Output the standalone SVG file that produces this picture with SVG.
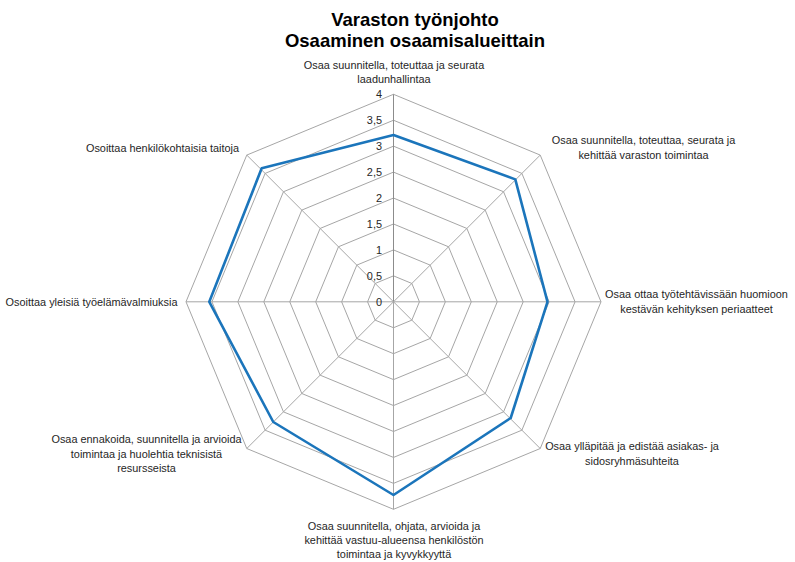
<svg xmlns="http://www.w3.org/2000/svg" width="795" height="562" viewBox="0 0 795 562">
<style>
.ring{fill:none;stroke:#a6a6a6;stroke-width:1}
.spoke{stroke:#a6a6a6;stroke-width:1}
.lab{font-family:"Liberation Sans",Arial,sans-serif;font-size:10.9px;fill:#262626;text-anchor:middle}
.tick{font-family:"Liberation Sans",Arial,sans-serif;font-size:10.9px;fill:#262626;text-anchor:end}
.title{font-family:"Liberation Sans",Arial,sans-serif;font-size:18.5px;font-weight:bold;fill:#000;text-anchor:middle}
.series{fill:none;stroke:#1b75bb;stroke-width:2.6;stroke-linejoin:round}
</style>
<rect width="795" height="562" fill="#fff"/>
<g id="title">
<text class="title" x="415" y="26">Varaston työnjohto</text>
<text class="title" x="415" y="47">Osaaminen osaamisalueittain</text>
</g>
<g id="grid">
<polygon class="ring" points="393.5,275.86 411.84,283.46 419.44,301.8 411.84,320.14 393.5,327.74 375.16,320.14 367.56,301.8 375.16,283.46"/>
<polygon class="ring" points="393.5,249.93 430.18,265.12 445.38,301.8 430.18,338.48 393.5,353.68 356.82,338.48 341.63,301.8 356.82,265.12"/>
<polygon class="ring" points="393.5,223.99 448.52,246.78 471.31,301.8 448.52,356.82 393.5,379.61 338.48,356.82 315.69,301.8 338.48,246.78"/>
<polygon class="ring" points="393.5,198.05 466.86,228.44 497.25,301.8 466.86,375.16 393.5,405.55 320.14,375.16 289.75,301.8 320.14,228.44"/>
<polygon class="ring" points="393.5,172.11 485.2,210.1 523.19,301.8 485.2,393.5 393.5,431.49 301.8,393.5 263.81,301.8 301.8,210.1"/>
<polygon class="ring" points="393.5,146.17 503.55,191.75 549.13,301.8 503.55,411.85 393.5,457.43 283.45,411.85 237.87,301.8 283.45,191.75"/>
<polygon class="ring" points="393.5,120.24 521.88,173.42 575.06,301.8 521.88,430.18 393.5,483.36 265.12,430.18 211.94,301.8 265.12,173.42"/>
<polygon class="ring" points="393.5,94.3 540.22,155.08 601,301.8 540.22,448.52 393.5,509.3 246.78,448.52 186,301.8 246.78,155.08"/>
</g>
<g id="connectors">
<line class="spoke" x1="393.5" y1="301.8" x2="393.5" y2="94.3" style="stroke:#8c8c8c"/>
<line class="spoke" x1="393.5" y1="301.8" x2="540.22" y2="155.08"/>
<line class="spoke" x1="393.5" y1="301.8" x2="601" y2="301.8"/>
<line class="spoke" x1="393.5" y1="301.8" x2="540.22" y2="448.52"/>
<line class="spoke" x1="393.5" y1="301.8" x2="393.5" y2="509.3"/>
<line class="spoke" x1="393.5" y1="301.8" x2="246.78" y2="448.52"/>
<line class="spoke" x1="393.5" y1="301.8" x2="186" y2="301.8"/>
<line class="spoke" x1="393.5" y1="301.8" x2="246.78" y2="155.08"/>
</g>
<g id="ticks">
<text class="tick" x="382" y="305.8">0</text>
<text class="tick" x="382" y="279.9">0,5</text>
<text class="tick" x="382" y="253.9">1</text>
<text class="tick" x="382" y="228">1,5</text>
<text class="tick" x="382" y="202">2</text>
<text class="tick" x="382" y="176.1">2,5</text>
<text class="tick" x="382" y="150.2">3</text>
<text class="tick" x="382" y="124.2">3,5</text>
<text class="tick" x="382" y="98.3">4</text>
</g>
<g id="series">
<polygon class="series" points="393.5,135 515.3,179.4 547.5,301.8 510.7,418 393.5,495 273.3,422 209.3,301.8 261.7,168.3"/>
</g>
<g id="axis-top">
<text class="lab" x="394" y="69">Osaa suunnitella, toteuttaa ja seurata</text>
<text class="lab" x="394" y="83">laadunhallintaa</text>
</g>
<g id="axis-top-right">
<text class="lab" x="643.5" y="144">Osaa suunnitella, toteuttaa, seurata ja</text>
<text class="lab" x="643.5" y="158.5">kehittää varaston toimintaa</text>
</g>
<g id="axis-right">
<text class="lab" x="696.5" y="298">Osaa ottaa työtehtävissään huomioon</text>
<text class="lab" x="696.5" y="312.5">kestävän kehityksen periaatteet</text>
</g>
<g id="axis-bottom-right">
<text class="lab" x="632" y="450">Osaa ylläpitää ja edistää asiakas- ja</text>
<text class="lab" x="632" y="464.5">sidosryhmäsuhteita</text>
</g>
<g id="axis-bottom">
<text class="lab" x="394" y="530">Osaa suunnitella, ohjata, arvioida ja</text>
<text class="lab" x="394" y="544">kehittää vastuu-alueensa henkilöstön</text>
<text class="lab" x="394" y="558">toimintaa ja kyvykkyyttä</text>
</g>
<g id="axis-bottom-left">
<text class="lab" x="146.5" y="443">Osaa ennakoida, suunnitella ja arvioida</text>
<text class="lab" x="146.5" y="457.5">toimintaa ja huolehtia teknisistä</text>
<text class="lab" x="146.5" y="472">resursseista</text>
</g>
<g id="axis-left">
<text class="lab" x="91.5" y="305.5">Osoittaa yleisiä työelämävalmiuksia</text>
</g>
<g id="axis-top-left">
<text class="lab" x="162.5" y="152">Osoittaa henkilökohtaisia taitoja</text>
</g>
</svg>
